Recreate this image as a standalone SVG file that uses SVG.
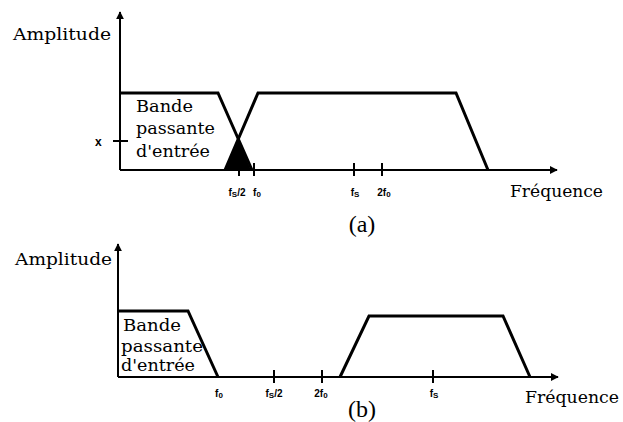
<svg xmlns="http://www.w3.org/2000/svg" width="623" height="422" viewBox="0 0 623 422">
<defs>
<marker id="arr" viewBox="0 0 10 10" refX="9" refY="5" markerWidth="4" markerHeight="4" orient="auto" markerUnits="strokeWidth">
<path d="M0,0 L10,5 L0,10 z" fill="#000"/>
</marker>
</defs>
<style>
.ax{stroke:#000;stroke-width:2;fill:none}
.sp{stroke:#000;stroke-width:3;fill:none;stroke-linejoin:miter}
.tk{stroke:#000;stroke-width:2}
.lab{font-family:"DejaVu Serif",serif;font-size:16px;fill:#000}
.band{font-family:"DejaVu Serif",serif;font-size:16px;fill:#000}
.sm{font-family:"Liberation Sans",sans-serif;font-size:10px;font-weight:bold;fill:#000}
.xl{font-family:"Liberation Sans",sans-serif;font-size:12px;font-weight:bold;fill:#000}
.cap{font-family:"Liberation Serif",serif;font-size:24px;fill:#000}
</style>
<g id="panel-a">
<g id="axes-a">
<line class="ax" x1="120" y1="170" x2="120" y2="12" marker-end="url(#arr)"/>
<line class="ax" x1="120" y1="170" x2="557" y2="170" marker-end="url(#arr)"/>
<line class="tk" x1="113" y1="141" x2="128" y2="141"/>
<line class="tk" x1="239" y1="163" x2="239" y2="176"/>
<line class="tk" x1="254" y1="163" x2="254" y2="176"/>
<line class="tk" x1="354" y1="163" x2="354" y2="176"/>
<line class="tk" x1="382" y1="163" x2="382" y2="176"/>
</g>
<g id="spectra-a">
<polyline class="sp" points="120,93 218,93 252,170"/>
<polyline class="sp" points="225,170 258,93 456,93 488,170"/>
<polygon points="226,170 238,139 251,170" fill="#000"/>
</g>
<g id="labels-a">
<text class="lab" x="13" y="40" textLength="98" lengthAdjust="spacingAndGlyphs">Amplitude</text>
<text class="xl" x="95" y="146">x</text>
<text class="band" x="136" y="112" textLength="57" lengthAdjust="spacingAndGlyphs">Bande</text>
<text class="band" x="136" y="134" textLength="79" lengthAdjust="spacingAndGlyphs">passante</text>
<text class="band" x="136" y="157" textLength="74" lengthAdjust="spacingAndGlyphs">d'entrée</text>
<text class="sm" x="237" y="196" text-anchor="middle">f<tspan font-size="8" dy="1">S</tspan><tspan dy="-1">/2</tspan></text>
<text class="sm" x="257" y="196" text-anchor="middle">f<tspan font-size="8" dy="1">0</tspan></text>
<text class="sm" x="355" y="196" text-anchor="middle">f<tspan font-size="8" dy="1">S</tspan></text>
<text class="sm" x="384" y="196" text-anchor="middle">2f<tspan font-size="8" dy="1">0</tspan></text>
<text class="lab" x="510" y="197" textLength="93" lengthAdjust="spacingAndGlyphs">Fréquence</text>
<text class="cap" x="362" y="232" text-anchor="middle">(a)</text>
</g>
</g>
<g id="panel-b">
<g id="axes-b">
<line class="ax" x1="118" y1="377" x2="118" y2="244" marker-end="url(#arr)"/>
<line class="ax" x1="118" y1="377" x2="558" y2="377" marker-end="url(#arr)"/>
<line class="tk" x1="274" y1="370" x2="274" y2="383"/>
<line class="tk" x1="322" y1="370" x2="322" y2="383"/>
<line class="tk" x1="433" y1="370" x2="433" y2="383"/>
</g>
<g id="spectra-b">
<polyline class="sp" points="118,311 188,311 218,377"/>
<polyline class="sp" points="340,377 369,316 503,316 530,377"/>
</g>
<g id="labels-b">
<text class="lab" x="15" y="265" textLength="97" lengthAdjust="spacingAndGlyphs">Amplitude</text>
<text class="band" x="123" y="331" textLength="58" lengthAdjust="spacingAndGlyphs">Bande</text>
<text class="band" x="121" y="352" textLength="82" lengthAdjust="spacingAndGlyphs">passante</text>
<text class="band" x="121" y="371" textLength="74" lengthAdjust="spacingAndGlyphs">d'entrée</text>
<text class="sm" x="219" y="397" text-anchor="middle">f<tspan font-size="8" dy="1">0</tspan></text>
<text class="sm" x="274" y="397" text-anchor="middle">f<tspan font-size="8" dy="1">S</tspan><tspan dy="-1">/2</tspan></text>
<text class="sm" x="321" y="397" text-anchor="middle">2f<tspan font-size="8" dy="1">0</tspan></text>
<text class="sm" x="434" y="397" text-anchor="middle">f<tspan font-size="8" dy="1">S</tspan></text>
<text class="lab" x="525" y="403" textLength="94" lengthAdjust="spacingAndGlyphs">Fréquence</text>
<text class="cap" x="362" y="417" text-anchor="middle">(b)</text>
</g>
</g>
</svg>
